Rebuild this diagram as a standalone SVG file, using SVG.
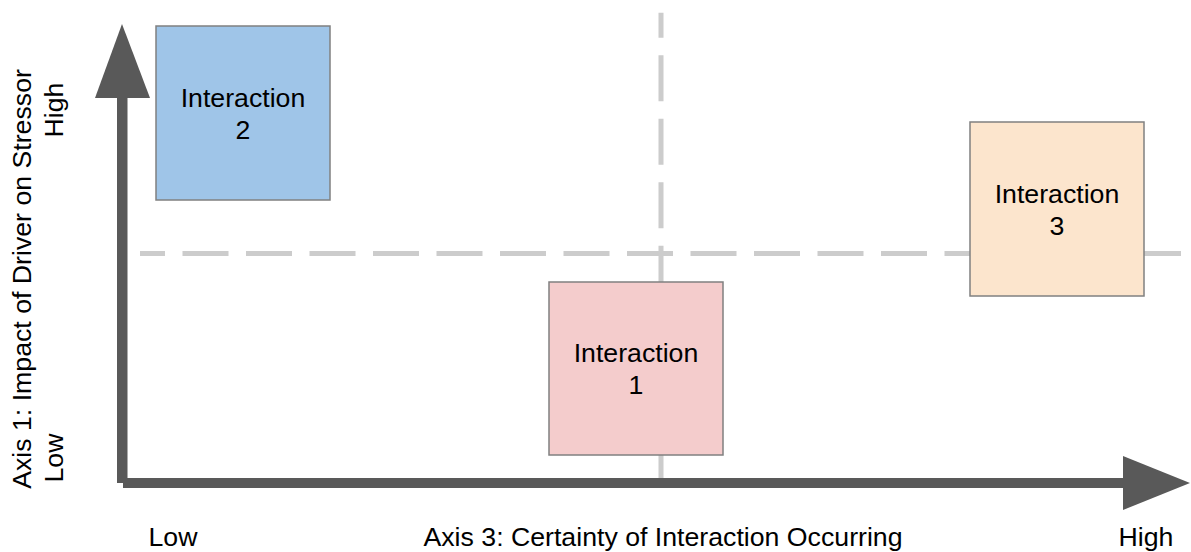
<svg xmlns="http://www.w3.org/2000/svg" width="1191" height="552" viewBox="0 0 1191 552">
  <style>
    .lbl { font-family: "Liberation Sans", Arial, sans-serif; font-size: 26.7px; fill: #000000; text-anchor: middle; }
    .box { stroke: #808080; stroke-width: 1.5; }
    .dash { stroke: #cccccc; stroke-width: 5; stroke-dasharray: 46 17.5; fill: none; }
    .axis { fill: #595959; }
  </style>
  <rect width="1191" height="552" fill="#ffffff"/>
  <g id="gridlines">
    <line class="dash" x1="661" y1="12.7" x2="661" y2="478" stroke-dashoffset="21"/>
    <line class="dash" x1="140" y1="253.5" x2="1181" y2="253.5" stroke-dashoffset="21"/>
  </g>
  <g id="connectors">
    <rect class="axis" x="117" y="95" width="10.5" height="388"/>
    <polygon class="axis" points="122,24 95,98 150,98"/>
    <rect class="axis" x="123" y="478" width="1003" height="10"/>
    <polygon class="axis" points="1190,483 1123,456 1123,510"/>
  </g>
  <g id="interaction2">
    <rect class="box" x="156" y="26" width="174" height="174" fill="#9fc5e8"/>
    <text class="lbl" x="243" y="107">Interaction</text>
    <text class="lbl" x="243" y="139">2</text>
  </g>
  <g id="interaction1">
    <rect class="box" x="549" y="282" width="174" height="173" fill="#f4cccc"/>
    <text class="lbl" x="636" y="362">Interaction</text>
    <text class="lbl" x="636" y="394">1</text>
  </g>
  <g id="interaction3">
    <rect class="box" x="970" y="122" width="174" height="174" fill="#fce5cd"/>
    <text class="lbl" x="1057" y="203">Interaction</text>
    <text class="lbl" x="1057" y="235">3</text>
  </g>
  <g id="axis-labels">
    <text class="lbl" transform="translate(31,279) rotate(-90)">Axis 1: Impact of Driver on Stressor</text>
    <text class="lbl" transform="translate(63,110) rotate(-90)">High</text>
    <text class="lbl" transform="translate(63,458) rotate(-90)">Low</text>
    <text class="lbl" x="173" y="546">Low</text>
    <text class="lbl" x="663" y="546">Axis 3: Certainty of Interaction Occurring</text>
    <text class="lbl" x="1146" y="546">High</text>
  </g>
</svg>
